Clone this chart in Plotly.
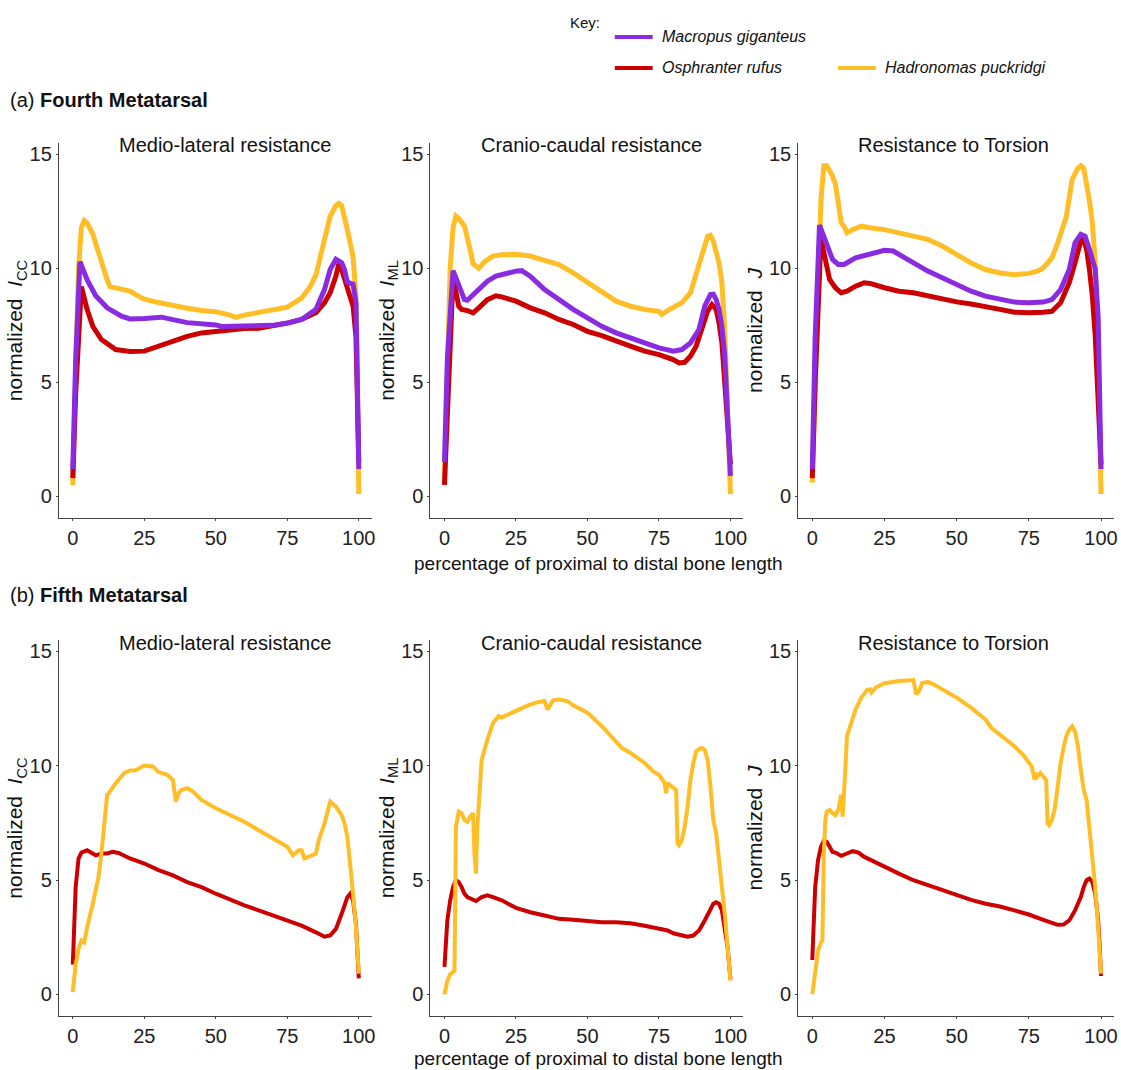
import plotly.graph_objects as go

W, H = 1121, 1070

# ---------------- DATA ----------------
species = ["Macropus giganteus", "Osphranter rufus", "Hadronomas puckridgi"]
colors = {"Macropus giganteus": "#8A2BE2", "Osphranter rufus": "#CC0000", "Hadronomas puckridgi": "#FFBE26"}
panel_titles = ["Medio-lateral resistance", "Cranio-caudal resistance", "Resistance to Torsion"]
y_titles = ["normalized  <i>I</i><sub>CC</sub>", "normalized  <i>I</i><sub>ML</sub>", "normalized  <i>J</i>"]
x_title = "percentage of proximal to distal bone length"
x_ticks = [0, 25, 50, 75, 100]
y_ticks = [0, 5, 10, 15]

# (a) Fourth metatarsal, medio-lateral
a_ml_hp_x = [0, 1, 2, 3, 4, 5, 7, 9, 11, 12, 13, 15, 20, 22, 25, 30, 35, 40, 45, 50, 55, 57, 60, 65, 70, 75, 80, 83, 85, 88, 90, 92, 93, 94, 95, 96, 98, 99, 99.5, 100]
a_ml_hp_y = [0.5, 5.0, 10.0, 11.8, 12.1, 12.0, 11.5, 10.7, 9.8, 9.5, 9.2, 9.15, 9.0, 8.85, 8.65, 8.5, 8.35, 8.25, 8.15, 8.1, 7.95, 7.85, 7.95, 8.05, 8.15, 8.3, 8.7, 9.2, 9.7, 11.2, 12.3, 12.75, 12.85, 12.75, 12.3, 11.7, 10.5, 8.8, 5.9, 0.1]
a_ml_mg_x = [0, 1, 2.5, 5, 8, 12, 17, 20, 25, 31, 35, 40, 50, 52, 60, 70, 75, 80, 85, 88, 90, 92, 94, 95, 96, 98, 99, 99.5, 100]
a_ml_mg_y = [1.2, 6.0, 10.3, 9.5, 8.8, 8.27, 7.9, 7.78, 7.8, 7.86, 7.75, 7.62, 7.52, 7.45, 7.47, 7.5, 7.6, 7.76, 8.2, 9.07, 9.95, 10.4, 10.25, 9.95, 9.4, 9.3, 8.5, 5.85, 1.2]
a_ml_or_x = [0, 1, 3, 5, 7, 10, 15, 20, 25, 30, 35, 40, 45, 50, 55, 60, 65, 70, 75, 80, 85, 88, 90, 92, 93, 94, 95, 97, 98, 99, 99.7, 100]
a_ml_or_y = [0.8, 4.5, 9.2, 8.2, 7.46, 6.88, 6.44, 6.35, 6.37, 6.59, 6.8, 7.02, 7.17, 7.24, 7.32, 7.36, 7.37, 7.46, 7.6, 7.76, 8.05, 8.49, 8.93, 9.66, 10.2, 9.95, 9.5, 8.78, 8.34, 7.0, 3.66, 1.5]

# (a) Fourth metatarsal, cranio-caudal
a_cc_hp_x = [0, 1, 2, 3, 4, 5, 7, 9, 10, 12, 14, 17, 20, 25, 30, 35, 40, 45, 50, 55, 60, 65, 70, 75, 76, 78, 80, 83, 86, 88, 90, 92, 93, 94, 96, 97, 98, 99, 100]
a_cc_hp_y = [0.5, 5.0, 10.0, 11.8, 12.3, 12.2, 11.85, 10.8, 10.2, 10.0, 10.3, 10.54, 10.6, 10.62, 10.54, 10.35, 10.17, 9.8, 9.37, 8.93, 8.56, 8.34, 8.2, 8.12, 7.98, 8.15, 8.27, 8.49, 8.93, 9.8, 10.7, 11.4, 11.45, 11.2, 10.24, 9.37, 7.32, 3.66, 0.1]
a_cc_mg_x = [0, 1, 3, 5, 7, 8, 10, 13, 15, 18, 20, 25, 27, 30, 35, 40, 45, 50, 55, 60, 65, 70, 75, 80, 83, 86, 89, 91, 93, 94, 95, 96, 97, 98, 99, 100]
a_cc_mg_y = [1.5, 6.0, 9.9, 9.22, 8.63, 8.6, 8.85, 9.22, 9.44, 9.66, 9.73, 9.88, 9.9, 9.66, 9.07, 8.63, 8.2, 7.83, 7.46, 7.17, 6.95, 6.73, 6.51, 6.37, 6.44, 6.73, 7.32, 8.34, 8.85, 8.87, 8.63, 8.2, 7.46, 6.15, 3.66, 0.9]
a_cc_or_x = [0, 1, 3, 5, 6, 8, 10, 12, 15, 18, 20, 25, 30, 35, 40, 45, 50, 55, 60, 65, 70, 75, 80, 82, 84, 86, 88, 90, 92, 93.5, 95, 96, 97, 98, 99, 100]
a_cc_or_y = [0.5, 4.0, 9.6, 8.34, 8.2, 8.15, 8.05, 8.27, 8.63, 8.8, 8.75, 8.56, 8.27, 8.05, 7.76, 7.54, 7.24, 7.05, 6.8, 6.59, 6.37, 6.22, 6.0, 5.85, 5.88, 6.15, 6.59, 7.32, 8.12, 8.41, 8.2, 7.6, 6.73, 4.98, 2.93, 1.4]

# (a) Fourth metatarsal, torsion
a_t_hp_x = [0, 1, 2, 3, 4, 5, 7, 8, 9, 10, 11, 12, 14, 17, 20, 25, 30, 35, 40, 45, 50, 55, 60, 65, 70, 75, 78, 80, 83, 85, 88, 90, 92, 93, 94, 95, 96, 97, 98, 99, 100]
a_t_hp_y = [0.6, 5.0, 10.0, 13.0, 14.5, 14.5, 14.05, 13.7, 12.88, 12.0, 11.85, 11.56, 11.7, 11.85, 11.78, 11.7, 11.56, 11.39, 11.27, 10.98, 10.61, 10.24, 9.95, 9.8, 9.72, 9.78, 9.88, 10.02, 10.46, 11.12, 12.29, 13.9, 14.4, 14.5, 14.4, 13.76, 12.95, 12.0, 10.24, 6.59, 0.1]
a_t_mg_x = [0, 1, 2.5, 4, 5, 7, 9, 11, 15, 20, 25, 28, 30, 35, 40, 45, 50, 55, 60, 65, 70, 75, 80, 83, 86, 89, 91, 93, 94.5, 96, 97, 98, 99, 99.5, 100]
a_t_mg_y = [1.2, 7.0, 11.9, 11.4, 10.98, 10.39, 10.17, 10.17, 10.46, 10.61, 10.79, 10.76, 10.61, 10.24, 9.88, 9.59, 9.29, 9.0, 8.78, 8.63, 8.52, 8.49, 8.52, 8.63, 9.07, 9.95, 11.12, 11.49, 11.41, 10.83, 10.39, 9.95, 7.9, 4.39, 1.2]
a_t_or_x = [0, 1, 3, 5, 6, 8, 10, 12, 15, 18, 20, 25, 30, 35, 40, 45, 50, 55, 60, 65, 70, 75, 80, 83, 86, 89, 91, 93, 94, 95, 96, 97, 98, 99, 100]
a_t_or_y = [0.8, 5.0, 11.3, 10.1, 9.51, 9.15, 8.93, 9.0, 9.22, 9.37, 9.34, 9.15, 9.0, 8.93, 8.78, 8.66, 8.53, 8.44, 8.34, 8.2, 8.08, 8.05, 8.08, 8.12, 8.49, 9.37, 10.24, 11.2, 11.27, 10.83, 9.95, 8.78, 7.02, 3.66, 1.4]

# (b) Fifth metatarsal, medio-lateral
b_ml_hp_x = [0, 1, 2, 3, 4, 5, 7, 9, 10, 11, 12, 13, 15, 18, 20, 22, 25, 28, 30, 33, 35, 36, 37, 38, 40, 42, 45, 50, 55, 60, 65, 70, 75, 77, 79, 80, 81, 83, 85, 86, 88, 90, 92, 94, 95, 96, 97, 98, 99, 100]
b_ml_hp_y = [0.1, 1.3, 1.98, 2.35, 2.27, 2.93, 3.96, 5.13, 6.16, 7.33, 8.72, 8.87, 9.24, 9.68, 9.79, 9.8, 10.01, 9.97, 9.72, 9.6, 9.38, 8.43, 8.8, 8.94, 9.02, 8.87, 8.5, 8.14, 7.84, 7.55, 7.18, 6.82, 6.45, 6.08, 6.3, 6.3, 5.95, 6.05, 6.16, 6.74, 7.48, 8.43, 8.21, 7.84, 7.48, 6.89, 5.72, 4.4, 2.93, 0.9]
b_ml_or_x = [0, 0.5, 1, 2, 3, 5, 7, 8, 10, 12, 14, 16, 20, 25, 30, 35, 40, 45, 50, 55, 60, 65, 70, 75, 80, 85, 88, 90, 92, 94, 96, 97, 98, 99, 99.5, 100]
b_ml_or_y = [1.3, 3.2, 4.69, 5.94, 6.2, 6.3, 6.16, 6.08, 6.16, 6.16, 6.23, 6.18, 5.94, 5.72, 5.43, 5.2, 4.91, 4.69, 4.4, 4.13, 3.89, 3.67, 3.45, 3.26, 3.0, 2.71, 2.52, 2.57, 2.86, 3.52, 4.25, 4.4, 4.11, 3.08, 2.05, 0.7]

# (b) Fifth metatarsal, cranio-caudal
b_cc_hp_x = [0, 1, 2, 3, 3.5, 3.8, 4, 5, 6, 7, 8, 9, 10, 10.5, 11, 11.5, 12, 13, 15, 17, 19, 20, 21, 25, 28, 30, 33, 35, 36, 37, 38, 40, 43, 45, 50, 55, 60, 62, 65, 70, 73, 75, 77, 77.5, 78, 80, 81, 81.5, 82, 83, 84, 85, 86, 87, 88, 89, 90, 91, 92, 93, 94, 95, 96, 97, 98, 99, 100]
b_cc_hp_y = [0.0, 0.59, 0.88, 0.95, 1.03, 4.69, 7.33, 7.99, 7.92, 7.62, 7.55, 7.77, 7.92, 6.16, 5.28, 7.33, 8.5, 10.26, 11.14, 11.88, 12.17, 12.1, 12.17, 12.39, 12.58, 12.68, 12.79, 12.83, 12.46, 12.64, 12.86, 12.9, 12.83, 12.64, 12.32, 11.73, 11.07, 10.78, 10.56, 10.12, 9.75, 9.6, 9.24, 8.8, 9.24, 9.02, 8.94, 6.6, 6.52, 6.74, 7.33, 8.21, 9.38, 10.12, 10.63, 10.73, 10.78, 10.7, 10.26, 9.09, 7.62, 7.04, 5.87, 4.84, 3.52, 2.05, 0.6]
b_cc_or_x = [0, 0.5, 1, 2, 3, 4, 5, 6, 7, 8, 10, 11, 13, 15, 17, 20, 25, 30, 35, 40, 45, 50, 55, 60, 65, 70, 75, 78, 80, 83, 85, 87, 89, 91, 93, 94, 95, 96, 97, 98, 99, 100]
b_cc_or_y = [1.2, 2.64, 3.23, 4.11, 4.69, 4.99, 4.91, 4.69, 4.4, 4.25, 4.11, 4.08, 4.25, 4.33, 4.25, 4.11, 3.78, 3.59, 3.45, 3.3, 3.26, 3.2, 3.15, 3.15, 3.11, 3.0, 2.86, 2.79, 2.67, 2.57, 2.52, 2.57, 2.79, 3.23, 3.67, 3.96, 4.03, 3.96, 3.67, 2.93, 2.05, 0.66]

# (b) Fifth metatarsal, torsion
b_t_hp_x = [0, 1, 2, 3, 3.5, 4, 4.5, 5, 6, 7, 8, 9, 10, 10.5, 11, 11.5, 12, 13, 15, 17, 19, 20, 20.5, 22, 25, 30, 33, 35, 36, 37, 38, 40, 42, 45, 50, 55, 60, 62, 65, 70, 73, 75, 76, 77, 77.5, 78, 79, 80, 81, 81.5, 82, 83, 84, 85, 86, 87, 88, 89, 90, 91, 92, 93, 94, 95, 96, 97, 98, 99, 100]
b_t_hp_y = [0.0, 1.03, 1.91, 2.27, 2.35, 6.16, 7.62, 7.99, 8.06, 7.92, 7.84, 8.06, 8.72, 7.77, 8.65, 9.97, 11.29, 11.73, 12.46, 12.98, 13.31, 13.34, 13.2, 13.42, 13.61, 13.71, 13.74, 13.75, 13.12, 13.27, 13.61, 13.67, 13.56, 13.34, 12.98, 12.54, 12.02, 11.66, 11.36, 10.85, 10.48, 10.12, 9.97, 9.38, 9.68, 9.53, 9.68, 9.53, 9.38, 7.48, 7.4, 7.62, 8.14, 9.09, 10.12, 10.78, 11.29, 11.58, 11.73, 11.51, 10.85, 9.82, 8.94, 8.5, 7.33, 6.16, 4.69, 2.93, 0.9]
b_t_or_x = [0, 0.5, 1, 2, 3, 4, 5, 6, 7, 8, 10, 12, 14, 16, 18, 20, 25, 30, 35, 40, 45, 50, 55, 60, 65, 70, 75, 80, 83, 85, 87, 89, 91, 93, 94, 95, 96, 97, 98, 99, 99.5, 100]
b_t_or_y = [1.5, 3.52, 4.69, 5.87, 6.45, 6.72, 6.67, 6.45, 6.23, 6.2, 6.06, 6.16, 6.26, 6.2, 6.01, 5.89, 5.57, 5.28, 4.99, 4.77, 4.55, 4.33, 4.13, 3.96, 3.84, 3.67, 3.49, 3.26, 3.11, 3.04, 3.05, 3.23, 3.67, 4.25, 4.69, 4.99, 5.06, 4.91, 4.4, 3.23, 2.2, 0.8]

# panel -> list of (species, x, y) in drawing order
panels = [
    [("Hadronomas puckridgi", a_ml_hp_x, a_ml_hp_y), ("Osphranter rufus", a_ml_or_x, a_ml_or_y), ("Macropus giganteus", a_ml_mg_x, a_ml_mg_y)],
    [("Hadronomas puckridgi", a_cc_hp_x, a_cc_hp_y), ("Osphranter rufus", a_cc_or_x, a_cc_or_y), ("Macropus giganteus", a_cc_mg_x, a_cc_mg_y)],
    [("Hadronomas puckridgi", a_t_hp_x, a_t_hp_y), ("Osphranter rufus", a_t_or_x, a_t_or_y), ("Macropus giganteus", a_t_mg_x, a_t_mg_y)],
    [("Osphranter rufus", b_ml_or_x, b_ml_or_y), ("Hadronomas puckridgi", b_ml_hp_x, b_ml_hp_y)],
    [("Osphranter rufus", b_cc_or_x, b_cc_or_y), ("Hadronomas puckridgi", b_cc_hp_x, b_cc_hp_y)],
    [("Osphranter rufus", b_t_or_x, b_t_or_y), ("Hadronomas puckridgi", b_t_hp_x, b_t_hp_y)],
]

# ---------------- LAYOUT (page pixel positions) ----------------
FONT = "Liberation Sans, Arial, sans-serif"
NARROW = "Liberation Sans Narrow, Liberation Sans, Arial, sans-serif"
col_px = [(59, 373), (432, 746), (801, 1118)]
row_px = [(143, 518), (640, 1016)]
title_x_px = [226, 594, 957]
title_y_px = [145, 643]
xlabel_y_px = [563, 1058]

def px_x(p):
    return p / W

def px_y(p):
    return 1 - p / H

fig = go.Figure()
layout = dict(
    width=W, height=H, margin=dict(l=0, r=0, t=0, b=0),
    paper_bgcolor="white", plot_bgcolor="white", showlegend=False,
    font=dict(family=FONT, color="#111111"),
)
annotations = []
shapes = []

for i, series in enumerate(panels):
    r, c = divmod(i, 3)
    k = i + 1
    xa = "x" if k == 1 else f"x{k}"
    ya = "y" if k == 1 else f"y{k}"
    lw = 5 if r == 0 else 4
    for name, xs, ys in series:
        fig.add_trace(go.Scatter(x=xs, y=ys, mode="lines", name=name,
                                 line=dict(color=colors[name], width=lw),
                                 xaxis=xa, yaxis=ya, showlegend=False))
    xkey = "xaxis" if k == 1 else f"xaxis{k}"
    ykey = "yaxis" if k == 1 else f"yaxis{k}"
    layout[xkey] = dict(
        domain=[px_x(col_px[c][0]), px_x(col_px[c][1])], anchor=ya,
        range=[-4.9, 104.5], tickvals=x_ticks, ticktext=[str(v) for v in x_ticks],
        showline=True, linecolor="#444444", linewidth=1, showgrid=False, zeroline=False,
        ticks="outside", ticklen=2, tickcolor="#444444",
        tickfont=dict(size=20, family=FONT, color="#222222"),
    )
    layout[ykey] = dict(
        domain=[px_y(row_px[r][1]), px_y(row_px[r][0])], anchor=xa,
        range=[-0.95, 15.5], tickvals=y_ticks, ticktext=[str(v) for v in y_ticks],
        showline=True, linecolor="#444444", linewidth=1, showgrid=False, zeroline=False,
        ticks="outside", ticklen=2, tickcolor="#444444",
        tickfont=dict(size=20, family=FONT, color="#222222"),
        title=dict(text=y_titles[c], font=dict(size=21, family=FONT, color="#111111"), standoff=0),
    )
    annotations.append(dict(text=panel_titles[c], x=px_x(title_x_px[c]), y=px_y(title_y_px[r]),
                            xref="paper", yref="paper", showarrow=False, xanchor="center", yanchor="middle",
                            font=dict(size=20, family=FONT, color="#111111")))

# shared x-axis titles (under the middle column)
for r in range(2):
    annotations.append(dict(text=x_title, x=px_x(601), y=px_y(xlabel_y_px[r]), xref="paper", yref="paper",
                            showarrow=False, xanchor="center", yanchor="middle",
                            font=dict(size=19, family=FONT, color="#111111")))

# section labels
annotations.append(dict(text="(a) <b>Fourth Metatarsal</b>", x=px_x(8), y=px_y(100), xref="paper", yref="paper",
                        showarrow=False, xanchor="left", yanchor="middle", font=dict(size=20, family=NARROW, color="#111111")))
annotations.append(dict(text="(b) <b>Fifth Metatarsal</b>", x=px_x(8), y=px_y(595), xref="paper", yref="paper",
                        showarrow=False, xanchor="left", yanchor="middle", font=dict(size=20, family=NARROW, color="#111111")))

# key
annotations.append(dict(text="Key:", x=px_x(570), y=px_y(22), xref="paper", yref="paper",
                        showarrow=False, xanchor="left", yanchor="middle", font=dict(size=15, family=NARROW, color="#111111")))
key_items = [("Macropus giganteus", 617, 37), ("Osphranter rufus", 617, 68), ("Hadronomas puckridgi", 841, 68)]
for name, kx, ky in key_items:
    shapes.append(dict(type="line", xref="paper", yref="paper", x0=px_x(kx), x1=px_x(kx + 38),
                       y0=px_y(ky), y1=px_y(ky), line=dict(color=colors[name], width=4)))
    annotations.append(dict(text=f"<i>{name}</i>", x=px_x(kx + 45), y=px_y(ky), xref="paper", yref="paper",
                            showarrow=False, xanchor="left", yanchor="middle",
                            font=dict(size=16, family=NARROW, color="#111111")))

layout["annotations"] = annotations
layout["shapes"] = shapes
fig.update_layout(**layout)
fig.write_html("out.html", config={"displayModeBar": False},
               post_script="document.body.style.margin='0px';document.body.style.overflow='hidden';")
